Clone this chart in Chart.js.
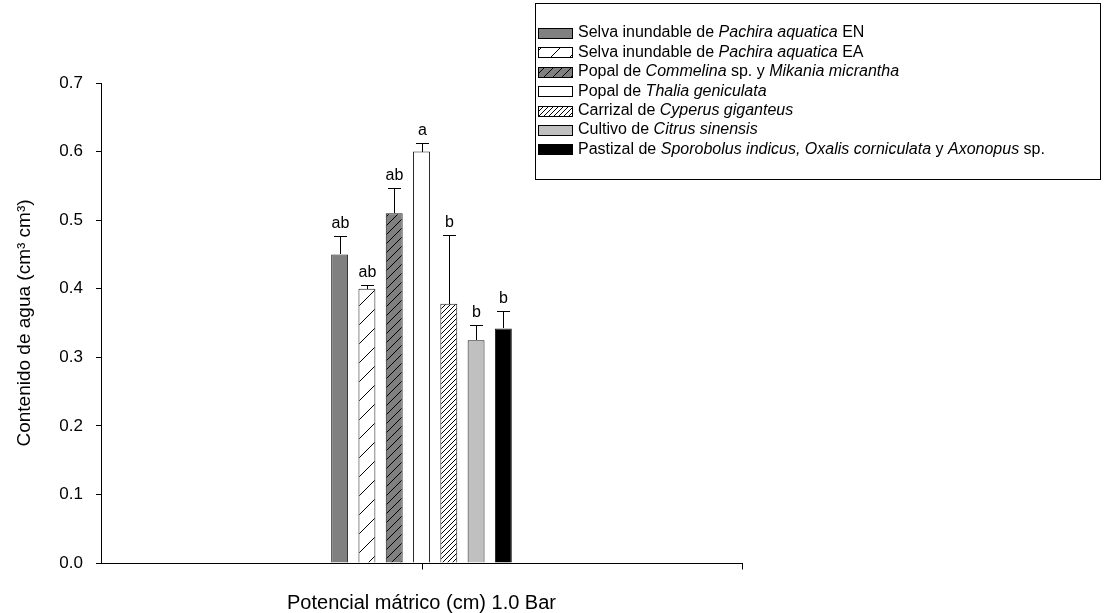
<!DOCTYPE html>
<html>
<head>
<meta charset="utf-8">
<script src="https://cdn.jsdelivr.net/npm/chart.js@4"></script>
<style>
  html, body { margin: 0; padding: 0; background: #fff; }
  #wrap { width: 1104px; height: 613px; position: relative; }
</style>
</head>
<body>
<div id="wrap"><canvas id="myChart" width="1104" height="613"></canvas></div>
<script>
// data
var categories = [''];
var seriesNames = [
  'Selva inundable de Pachira aquatica EN',
  'Selva inundable de Pachira aquatica EA',
  'Popal de Commelina sp. y Mikania micrantha',
  'Popal de Thalia geniculata',
  'Carrizal de Cyperus giganteus',
  'Cultivo de Citrus sinensis',
  'Pastizal de Sporobolus indicus, Oxalis corniculata y Axonopus sp.'
];
var seriesValues = [0.45, 0.40, 0.51, 0.60, 0.378, 0.325, 0.342];
var errorValues = [0.027, 0.006, 0.037, 0.013, 0.10, 0.022, 0.026];
var letters = ['ab', 'ab', 'ab', 'a', 'b', 'b', 'b'];
var yTicks = [0, 0.1, 0.2, 0.3, 0.4, 0.5, 0.6, 0.7];

// legend text with italic parts: [text, italic]
var legendParts = [
  [['Selva inundable de ', 0], ['Pachira aquatica', 1], [' EN', 0]],
  [['Selva inundable de ', 0], ['Pachira aquatica', 1], [' EA', 0]],
  [['Popal de ', 0], ['Commelina', 1], [' sp. y ', 0], ['Mikania micrantha', 1]],
  [['Popal de ', 0], ['Thalia geniculata', 1]],
  [['Carrizal de ', 0], ['Cyperus giganteus', 1]],
  [['Cultivo de ', 0], ['Citrus sinensis', 1]],
  [['Pastizal de ', 0], ['Sporobolus indicus, Oxalis corniculata', 1], [' y ', 0], ['Axonopus', 1], [' sp.', 0]]
];

var FONT = "'Liberation Sans', Arial, sans-serif";

function hatch(bg, step) {
  var c = document.createElement('canvas');
  c.width = step; c.height = step;
  var g = c.getContext('2d');
  g.fillStyle = bg;
  g.fillRect(0, 0, step, step);
  g.strokeStyle = '#000';
  g.lineWidth = 1;
  g.beginPath();
  g.moveTo(-1, step + 1); g.lineTo(step + 1, -1);
  g.moveTo(-1, 1); g.lineTo(1, -1);
  g.moveTo(step - 1, step + 1); g.lineTo(step + 1, step - 1);
  g.stroke();
  return g.createPattern(c, 'repeat');
}

var ctx = document.getElementById('myChart').getContext('2d');

var fills = [
  '#808080',
  hatch('#ffffff', 19),
  hatch('#808080', 9),
  '#ffffff',
  hatch('#ffffff', 5),
  '#c0c0c0',
  '#000000'
];

var datasets = seriesNames.map(function (name, i) {
  return {
    label: name,
    data: [seriesValues[i]],
    backgroundColor: fills[i],
    borderColor: '#1a1a1a',
    borderWidth: 1,
    borderSkipped: 'bottom',
    barPercentage: 0.62,
    categoryPercentage: 0.298
  };
});

var extras = {
  id: 'extras',
  afterDatasetsDraw: function (chart) {
    var c = chart.ctx, y = chart.scales.y, a = chart.chartArea;
    c.save();
    c.strokeStyle = '#000';
    c.lineWidth = 1;
    c.fillStyle = '#000';
    c.font = '16px ' + FONT;
    c.textAlign = 'center';
    c.textBaseline = 'bottom';
    seriesValues.forEach(function (v, i) {
      var bar = chart.getDatasetMeta(i).data[0];
      var cx = Math.round(bar.x) + 0.5;
      var top = Math.round(y.getPixelForValue(v));
      var ey = Math.round(y.getPixelForValue(v + errorValues[i])) + 0.5;
      c.beginPath();
      c.moveTo(cx, top); c.lineTo(cx, ey);
      c.moveTo(cx - 6.5, ey); c.lineTo(cx + 6.5, ey);
      c.stroke();
      c.fillText(letters[i], cx, ey - 5);
    });

    // x axis tick marks: centre and right end
    var by = Math.round(a.bottom) + 0.5;
    var mid = Math.round(chart.scales.x.getPixelForValue(0)) + 0.5;
    c.beginPath();
    c.moveTo(mid, by); c.lineTo(mid, by + 6);
    c.moveTo(Math.round(a.right) + 0.5, by); c.lineTo(Math.round(a.right) + 0.5, by + 6);
    c.stroke();

    // legend box
    var lx = 535.5, ly = 3.5, lw = 565, lh = 176;
    c.strokeRect(lx, ly, lw, lh);
    c.textAlign = 'left';
    c.textBaseline = 'middle';
    legendParts.forEach(function (parts, i) {
      var rowY = 33 + i * 19.4;
      c.fillStyle = chart.data.datasets[i].backgroundColor;
      c.fillRect(538, Math.round(rowY) - 5, 35, 11);
      c.strokeStyle = '#000';
      c.strokeRect(538.5, Math.round(rowY) - 4.5, 34, 10);
      var tx = 578;
      c.fillStyle = '#000';
      parts.forEach(function (p) {
        c.font = (p[1] ? 'italic ' : '') + '16px ' + FONT;
        c.fillText(p[0], tx, rowY);
        tx += c.measureText(p[0]).width;
      });
    });
    c.restore();
  }
};

var chart = new Chart(ctx, {
  type: 'bar',
  data: { labels: categories, datasets: datasets },
  options: {
    responsive: false,
    animation: false,
    layout: { padding: { left: 5, right: 362, top: 83, bottom: 0 } },
    plugins: { legend: { display: false }, tooltip: { enabled: false } },
    scales: {
      x: {
        grid: { display: false },
        border: { color: '#000', width: 1 },
        ticks: { display: false },
        title: {
          display: true,
          text: 'Potencial mátrico (cm) 1.0 Bar',
          color: '#000',
          font: { family: FONT, size: 20, lineHeight: 1 },
          padding: { top: 0, bottom: 0 }
        },
        afterFit: function (s) { s.height = 50; }
      },
      y: {
        min: 0,
        max: 0.7,
        afterBuildTicks: function (s) { s.ticks = yTicks.map(function (v) { return { value: v }; }); },
        border: { color: '#000', width: 1 },
        grid: { drawOnChartArea: false, drawTicks: true, tickLength: 5, color: '#000' },
        ticks: {
          color: '#000',
          padding: 13,
          font: { family: FONT, size: 17 },
          callback: function (v) { return Number(v).toFixed(1); }
        },
        title: {
          display: true,
          text: 'Contenido de agua (cm³ cm³)',
          color: '#000',
          font: { family: FONT, size: 19, lineHeight: 1 },
          padding: { top: 10, bottom: 0 }
        },
        afterFit: function (s) { s.width = 96; }
      }
    }
  },
  plugins: [extras]
});
</script>
</body>
</html>
